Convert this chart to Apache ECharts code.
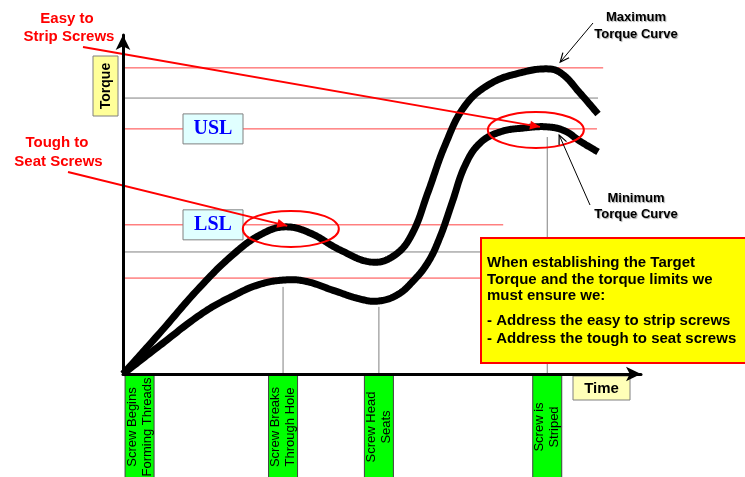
<!DOCTYPE html>
<html><head><meta charset="utf-8">
<script src="https://cdn.jsdelivr.net/npm/echarts@6/dist/echarts.min.js"></script>
<style>html,body{margin:0;padding:0;background:#fff}#c{width:745px;height:477px}</style>
</head><body><div id="c"></div>
<script>
// ---- data (time units 0..100, torque units 0..100) ----
const maxCurve = [[0,0],[7.1,12.1],[14.9,25.7],[21.6,35.7],[26.8,41.3],[31.3,43.4],[36.1,41.6],[41.9,36.6],[48.1,33.0],[52.5,35.1],[55.8,41.3],[58.9,53.7],[62.2,67.6],[66.0,79.1],[70.9,85.6],[76.6,88.8],[82.1,90.0],[84.8,88.5],[88.2,82.9],[91.7,76.7]];
const minCurve = [[0,0],[7.1,8.4],[15.4,18.0],[21.2,23.0],[26.1,26.3],[30.9,27.7],[35.1,27.4],[40.9,24.5],[45.8,22.1],[49.2,21.5],[52.9,23.3],[56.0,27.4],[58.9,33.0],[61.2,40.4],[63.5,50.4],[66.0,61.4],[68.9,68.1],[72.8,71.4],[77.6,72.6],[81.9,72.9],[85.3,71.7],[88.2,68.7],[91.7,65.5]];
const refNames  = ['Max limit','Upper','USL','LSL','Lower','Min limit'];
const refLevels = [90.3, 81.4, 72.3, 44.0, 36.0, 28.3];
const refEnds   = [92.7, 91.7, 91.5, 73.4, 69.0, 69.0];
const eventLabels = ['Screw Begins\nForming Threads','Screw Breaks\nThrough Hole','Screw Head\nSeats','Screw is\nStriped'];
const eventTimes  = [3.2, 30.9, 49.4, 81.9];
const eventTops   = [null, 25.7, 19.8, 69.9];
const limitLabels = ['USL','LSL'];
const noteLines = ['When establishing the Target','Torque and the torque limits we','must ensure we:','- Address the easy to strip screws','- Address the tough to seat screws'];

const FONT = 'Arial, "Liberation Sans", sans-serif';
const refColor = n => (n === 'Upper' || n === 'Lower') ? '#808080' : '#ff4040';

const chart = echarts.init(document.getElementById('c'), null, {renderer:'canvas'});
const series = [];
refNames.forEach((n,i)=>{
  series.push({type:'line', name:n, data:[[0,refLevels[i]],[refEnds[i],refLevels[i]]], symbol:'none', silent:true, z:1,
    lineStyle:{color:refColor(n), width:1}});
});
eventTimes.forEach((t,i)=>{
  if (eventTops[i] == null) return;
  series.push({type:'line', data:[[t,0],[t,eventTops[i]]], symbol:'none', silent:true, z:1, lineStyle:{color:'#808080', width:1}});
});
// smooth curve through the read points, drawn via the axis scales (api.coord)
function splineSeries(name, pts){
  return {type:'custom', name, data:pts, z:3, silent:true, clip:false, encode:{x:0,y:1},
    renderItem:(params, api)=>{
      if (params.dataIndex !== 0) return null;
      const P = pts.map(p=>api.coord(p));
      const n = P.length, S = 0.4;
      const d = (a,b)=>Math.hypot(b[0]-a[0],b[1]-a[1]);
      const cin=[], cout=[];
      for(let i=0;i<n;i++){
        const pr=P[Math.max(i-1,0)], nx=P[Math.min(i+1,n-1)];
        const v=[nx[0]-pr[0], nx[1]-pr[1]];
        const d0 = i>0 ? d(P[i-1],P[i]) : 0, d1 = i<n-1 ? d(P[i],P[i+1]) : 0, sum=(d0+d1)||1;
        cout[i]=[P[i][0]+v[0]*S*d1/sum, P[i][1]+v[1]*S*d1/sum];
        cin[i]=[P[i][0]-v[0]*S*d0/sum, P[i][1]-v[1]*S*d0/sum];
      }
      const out=[P[0]];
      for(let i=0;i<n-1;i++){
        const p1=P[i], c1=cout[i], c2=cin[i+1], p2=P[i+1];
        for(let k=1;k<=20;k++){
          const s=k/20,u=1-s;
          out.push([u*u*u*p1[0]+3*u*u*s*c1[0]+3*u*s*s*c2[0]+s*s*s*p2[0],
                    u*u*u*p1[1]+3*u*u*s*c1[1]+3*u*s*s*c2[1]+s*s*s*p2[1]]);
        }
      }
      return {type:'polyline', shape:{points:out}, style:{stroke:'#000', lineWidth:7, fill:null, lineJoin:'round', lineCap:'butt'}};
    }};
}
series.push(splineSeries('Maximum Torque Curve', maxCurve));
series.push(splineSeries('Minimum Torque Curve', minCurve));

const axisCommon = {type:'value', min:0, max:100, z:100, axisLabel:{show:false}, axisTick:{show:false}, splitLine:{show:false},
  axisLine:{show:true, lineStyle:{color:'#000', width:3}, symbol:['none','arrow'], symbolSize:[11,15], symbolOffset:[0,0]}};
chart.setOption({
  animation:false,
  grid:{left:123, right:104, top:35, bottom:103},
  xAxis:Object.assign({}, axisCommon),
  yAxis:Object.assign({}, axisCommon),
  series
});

const P = (t,v) => chart.convertToPixel({gridIndex:0},[t,v]);
const g = [];
function txt(x,y,text,font,color,extra){
  g.push(Object.assign({type:'text', x, y, z:60, style:Object.assign({text, font, fill:color||'#000', align:'center', verticalAlign:'middle'}, (extra&&extra.style)||{})}, extra&&extra.el||{}));
}
function arrow(x1,y1,x2,y2,color,w,head,filled){
  g.push({type:'line', z:70, shape:{x1,y1,x2,y2}, style:{stroke:color, lineWidth:w}});
  const a = Math.atan2(y2-y1,x2-x1), L=head, W=head*0.45;
  const p1=[x2-L*Math.cos(a)+W*Math.sin(a), y2-L*Math.sin(a)-W*Math.cos(a)];
  const p2=[x2-L*Math.cos(a)-W*Math.sin(a), y2-L*Math.sin(a)+W*Math.cos(a)];
  if (filled) g.push({type:'polygon', z:71, shape:{points:[[x2,y2],p1,p2]}, style:{fill:color}});
  else g.push({type:'polyline', z:71, shape:{points:[p1,[x2,y2],p2]}, style:{stroke:color, lineWidth:1.2, fill:null}});
}
// Torque axis box
g.push({type:'rect', z:50, shape:{x:93,y:56,width:25,height:60}, style:{fill:'#ffff99', stroke:'#808080', lineWidth:1}});
txt(106,86,'Torque','bold 14px '+FONT,'#000',{el:{rotation:Math.PI/2}});
// Time box
g.push({type:'rect', z:50, shape:{x:573,y:376,width:57,height:24}, style:{fill:'#ffffb8', stroke:'#808080', lineWidth:1}});
txt(601.5,388.5,'Time','bold 15px '+FONT,'#000');
// USL / LSL boxes
limitLabels.forEach((lab,i)=>{
  const y = P(0, refLevels[i===0?2:3])[1];
  g.push({type:'rect', z:50, shape:{x:183,y:y-15,width:60,height:30}, style:{fill:'#e0ffff', stroke:'#808080', lineWidth:1}});
  txt(213,y,lab,'bold 20px "Times New Roman", "Liberation Serif", serif','#0000ff');
});
// Event boxes
eventTimes.forEach((t,i)=>{
  const x = P(t,0)[0];
  g.push({type:'rect', z:50, shape:{x:x-14.5,y:375.5,width:29,height:106}, style:{fill:'#00ff00', stroke:'#404040', lineWidth:1}});
  txt(x,427,eventLabels[i],'13px '+FONT,'#000',{el:{rotation:Math.PI/2}, style:{lineHeight:15}});
});
// Note box
g.push({type:'rect', z:50, shape:{x:481,y:238,width:270,height:125}, style:{fill:'#ffff00', stroke:'#ff0000', lineWidth:2}});
const noteY = [263,279.5,296,321,339];
noteLines.forEach((l,i)=>{
  g.push({type:'text', z:60, x:487, y:noteY[i], style:{text:l, font:'bold 15px '+FONT, fill:'#000', align:'left', verticalAlign:'middle'}});
});
// Red labels
txt(67,19,'Easy to','bold 15px '+FONT,'#ff0000');
txt(69,37,'Strip Screws','bold 15px '+FONT,'#ff0000');
txt(57,143,'Tough to','bold 15px '+FONT,'#ff0000');
txt(58.5,162,'Seat Screws','bold 15px '+FONT,'#ff0000');
// Ellipses around peaks
[[32.4,42.8],[79.7,72.0]].forEach(c=>{
  const p = P(c[0],c[1]);
  g.push({type:'ellipse', z:65, shape:{cx:p[0],cy:p[1],rx:48,ry:18}, style:{fill:null, stroke:'#ff0000', lineWidth:2}});
});
// Red arrows
const a1 = P(80.5,72.9), a2 = P(31.7,43.7);
arrow(83,47,a1[0],a1[1],'#ff0000',2,10,true);
arrow(68,172,a2[0],a2[1],'#ff0000',2,10,true);
// Black arrows and labels
const m1 = P(84.4,92.0), m2 = P(84.2,70.5);
arrow(593,23,m1[0],m1[1],'#000',1,9,false);
arrow(590,205,m2[0],m2[1],'#000',1,9,false);
const shadow = {textShadowColor:'rgba(0,0,0,0.35)', textShadowOffsetX:1, textShadowOffsetY:1, textShadowBlur:1};
txt(636,17,'Maximum','bold 13px '+FONT,'#000',{style:shadow});
txt(636,34,'Torque Curve','bold 13px '+FONT,'#000',{style:shadow});
txt(636,198,'Minimum','bold 13px '+FONT,'#000',{style:shadow});
txt(636,214,'Torque Curve','bold 13px '+FONT,'#000',{style:shadow});

chart.setOption({graphic:{elements:g}});
</script></body></html>
